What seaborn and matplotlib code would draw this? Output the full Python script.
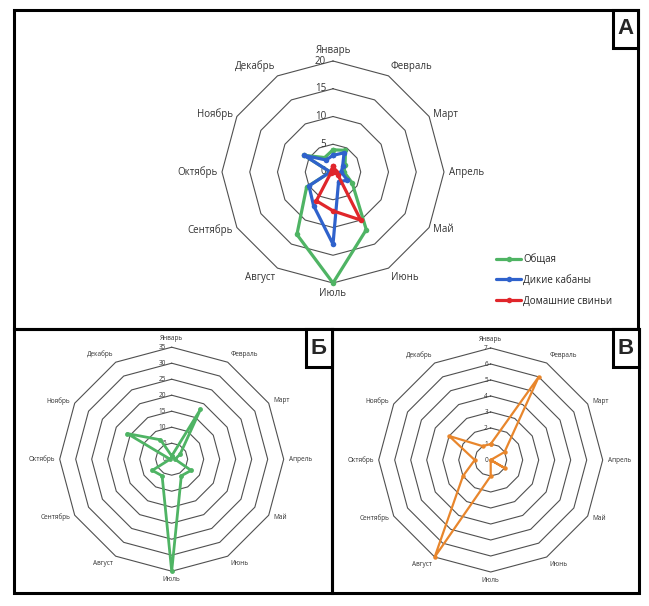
import numpy as np
import pandas as pd
import matplotlib.pyplot as plt
import seaborn as sns
from matplotlib.patches import Rectangle

# months (clockwise from the top)
months = ["Январь", "Февраль", "Март", "Апрель", "Май", "Июнь",
          "Июль", "Август", "Сентябрь", "Октябрь", "Ноябрь", "Декабрь"]

# panel A - three series
a_total = [4, 4.5, 2.5, 2, 4, 12, 20, 13, 5.5, 0.5, 6, 3]
a_wild = [3, 4, 2, 1.5, 3, 2, 13, 7, 5, 0.5, 6, 2.5]
a_domestic = [1, 0.5, 0.5, 0.5, 1, 10, 7, 6, 0.5, 0, 0, 0.5]
a_names = ["Общая", "Дикие кабаны", "Домашние свиньи"]
a_colors = ["#4FB464", "#2F62CC", "#E0262B"]
a_rings = [5, 10, 15, 20]

# panel Б
b_values = [1, 18, 3, 1, 7, 6, 35, 6, 7, 0.5, 16, 7]
b_rings = [5, 10, 15, 20, 25, 30, 35]

# panel В
v_values = [1, 6, 1, 0, 1, 0, 1, 7, 2, 1, 3, 1]
v_rings = [1, 2, 3, 4, 5, 6, 7]

W, H = 649, 606
sns.set_style("white")
plt.rcParams["font.family"] = ["Open Sans", "DejaVu Sans"]

fig = plt.figure(figsize=(W / 100, H / 100), dpi=100)
theta = np.arange(len(months)) * 2 * np.pi / len(months)


def fx(x):
    return x / W


def fy(y):
    return 1 - y / H


def long_frame(names, series):
    # repeat first month at the end so the polygon closes
    rows = []
    for name, vals in zip(names, series):
        for i in range(len(months) + 1):
            k = i % len(months)
            rows.append({"series": name, "theta": i * 2 * np.pi / len(months), "value": vals[k]})
    return pd.DataFrame(rows)


def radar_axes(cx, cy, r, rings, fs, lab_dx):
    ax = fig.add_axes([fx(cx - r), fy(cy + r), 2 * r / W, 2 * r / H], projection="polar")
    ax.set_theta_zero_location("N")
    ax.set_theta_direction(-1)
    ax.set_ylim(0, rings[-1])
    ax.set_xticks([])
    ax.set_yticks([])
    ax.grid(False)
    ax.spines["polar"].set_visible(False)
    ax.patch.set_alpha(0)
    closed = np.append(theta, theta[0])
    for v in rings:
        ax.plot(closed, [v] * len(closed), color="#505050", lw=0.8, clip_on=False, zorder=1)
    for v in [0] + rings:
        ax.annotate(str(v), xy=(0, v), xytext=(lab_dx, 0), textcoords="offset points",
                    ha="right", va="center", fontsize=fs, color="#333333")
    gap = 3.5
    for t, m in zip(theta, months):
        s, c = np.sin(t), np.cos(t)
        ha = "center" if abs(s) < 0.1 else ("left" if s > 0 else "right")
        va = "bottom" if c > 0.6 else ("top" if c < -0.6 else "center")
        ax.annotate(m, xy=(t, rings[-1]), xytext=(gap * s, gap * c), textcoords="offset points",
                    ha=ha, va=va, fontsize=fs, color="#333333", annotation_clip=False)
    return ax


# panel A
ax_a = radar_axes(333, 172, 111, a_rings, 7, -5)
df_a = long_frame(a_names, [a_total, a_wild, a_domestic])
sns.lineplot(data=df_a, x="theta", y="value", hue="series", hue_order=a_names,
             palette=a_colors, sort=False, estimator=None, marker="o", markersize=4,
             markeredgewidth=0, lw=2.3, clip_on=False, zorder=3, ax=ax_a)
ax_a.set_xlabel("")
ax_a.set_ylabel("")
sns.move_legend(ax_a, "upper left", bbox_to_anchor=(fx(496), fy(254)),
                bbox_transform=fig.transFigure, frameon=False, title=None,
                fontsize=7, handlelength=2.6, handletextpad=0.2, labelspacing=1.0,
                borderpad=0, borderaxespad=0)

# panel Б
ax_b = radar_axes(171.7, 459.2, 112, b_rings, 4.7, -4)
df_b = long_frame(["Б"], [b_values])
sns.lineplot(data=df_b, x="theta", y="value", color="#4FB464", sort=False, estimator=None,
             marker="o", markersize=3.5, markeredgewidth=0, lw=2.0, clip_on=False,
             zorder=3, ax=ax_b)
ax_b.set_xlabel("")
ax_b.set_ylabel("")

# panel В
ax_v = radar_axes(490.7, 460, 112, v_rings, 4.7, -2)
df_v = long_frame(["В"], [v_values])
sns.lineplot(data=df_v, x="theta", y="value", color="#E8862C", sort=False, estimator=None,
             marker="o", markersize=3.2, markeredgewidth=0, lw=1.6, clip_on=False,
             zorder=3, ax=ax_v)
ax_v.set_xlabel("")
ax_v.set_ylabel("")


# frames and panel letters
def box(x0, y0, x1, y1, lw=2.2):
    fig.add_artist(Rectangle((fx(x0), fy(y1)), (x1 - x0) / W, (y1 - y0) / H,
                             transform=fig.transFigure, fill=False, ec="black", lw=lw))


box(14, 10, 638, 329)
box(14, 329, 332, 593)
box(332, 329, 639, 593)
for (x0, y0, x1, y1), letter in [((613, 10, 638, 48), "А"),
                                 ((306, 329, 332, 367), "Б"),
                                 ((613, 329, 639, 367), "В")]:
    fig.add_artist(Rectangle((fx(x0), fy(y1)), (x1 - x0) / W, (y1 - y0) / H,
                             transform=fig.transFigure, fc="white", ec="black", lw=2.2))
    fig.text(fx((x0 + x1) / 2), fy((y0 + y1) / 2), letter, ha="center", va="center",
             fontsize=16, fontweight="bold", family=["Liberation Sans", "DejaVu Sans"])

fig.savefig("out.png", dpi=100)
